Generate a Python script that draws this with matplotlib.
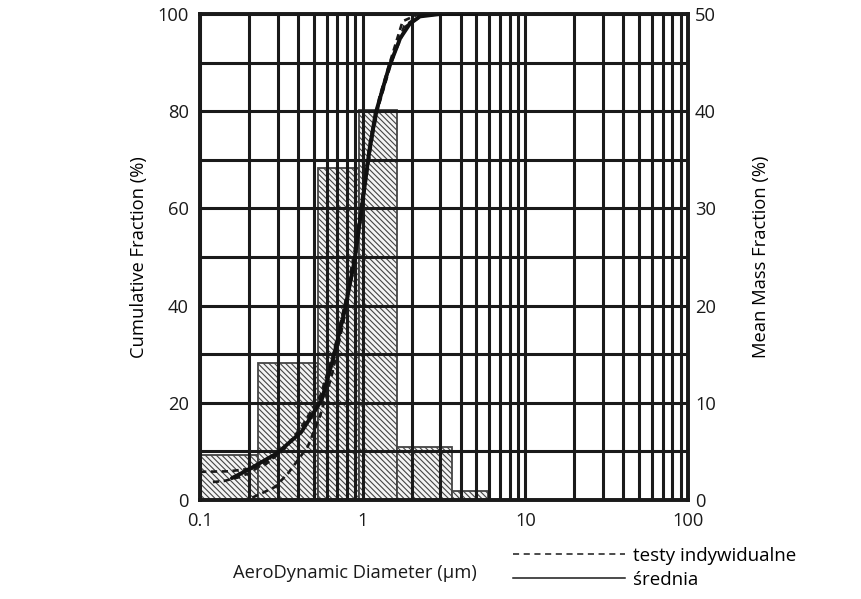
import matplotlib
matplotlib.use("Agg")
import matplotlib.pyplot as plt
from matplotlib.lines import Line2D
from matplotlib.ticker import FixedLocator, NullFormatter, NullLocator
import numpy as np

plt.rcParams['font.family'] = ['Open Sans', 'DejaVu Sans']
plt.rcParams['hatch.linewidth'] = 0.8
plt.rcParams['hatch.color'] = '#707070'

# ---- data ----
bin_edges = [0.1, 0.227, 0.53, 0.955, 1.62, 3.52, 5.93]
mass_fraction = [4.6, 14.1, 34.2, 40.1, 5.5, 0.95]

mean_x = [0.157, 0.2, 0.3, 0.42, 0.56, 0.655, 0.776, 0.893, 1.0, 1.1, 1.2, 1.45, 1.7, 1.95, 2.25, 3.0, 5.0]
mean_y = [4.5, 6.3, 9.7, 14.0, 20.6, 28.8, 39.0, 49.4, 61.5, 72.0, 79.5, 89.0, 95.0, 98.0, 99.5, 100.0, 100.0]

test1_x = [0.1, 0.15, 0.2, 0.25, 0.33, 0.42, 0.55, 0.66, 0.78, 0.9, 1.0, 1.12, 1.27, 1.5, 1.76, 2.15, 3.0, 21.0]
test1_y = [5.8, 5.9, 6.4, 7.2, 10.5, 15.0, 21.5, 30.0, 40.5, 52.0, 63.0, 74.5, 83.0, 91.0, 98.5, 99.8, 100.0, 100.0]

test2_x = [0.12, 0.14, 0.17, 0.2, 0.3, 0.42, 0.56, 0.66, 0.78, 0.9, 1.0, 1.12, 1.25, 1.5, 1.8, 2.2, 3.0]
test2_y = [3.7, 3.9, 4.6, 5.5, 9.3, 14.5, 21.5, 29.5, 40.0, 51.0, 62.0, 73.0, 81.0, 90.0, 97.5, 99.5, 100.0]

test3_x = [0.21, 0.24, 0.29, 0.35, 0.46, 0.55, 0.65, 0.76, 0.87, 0.97, 1.07, 1.17, 1.3, 1.55, 1.85, 2.3, 3.0]
test3_y = [0.5, 1.4, 2.7, 5.6, 11.0, 17.5, 26.0, 36.5, 47.5, 58.0, 68.0, 76.5, 84.0, 91.5, 97.5, 99.6, 100.0]

left_ticks = [0, 20, 40, 60, 80, 100]
right_ticks = [0, 10, 20, 30, 40, 50]
x_ticks = [0.1, 1, 10, 100]
x_tick_labels = ['0.1', '1', '10', '100']

# ---- figure ----
fig = plt.figure(figsize=(8.62, 5.99), dpi=100)
ax = fig.add_axes([200/862, 1-500/599, 488/862, 486/599])
ax2 = ax.twinx()
ax.set_zorder(2)
ax2.set_zorder(1)
ax.patch.set_visible(False)

widths = np.diff(bin_edges)
ax2.bar(bin_edges[:-1], mass_fraction, width=widths, align='edge',
        facecolor='#f4f4f4', edgecolor='#444444', linewidth=1.3,
        hatch='\\\\\\\\\\\\', zorder=1)

ax.set_xscale('log')
ax.set_xlim(0.1, 100)
ax.set_ylim(0, 100)
ax2.set_ylim(0, 50)
ax2.set_yticks(right_ticks)
ax2.yaxis.set_minor_locator(NullLocator())

# grid
minor_x = [m * 10.0**d for d in (-1, 0, 1) for m in range(2, 10)]
ax.xaxis.set_major_locator(FixedLocator(x_ticks))
ax.xaxis.set_minor_locator(FixedLocator(minor_x))
ax.xaxis.set_minor_formatter(NullFormatter())
ax.set_xticklabels(x_tick_labels)
ax.set_yticks(left_ticks)
ax.yaxis.set_minor_locator(FixedLocator([10, 30, 50, 70, 90]))
ax.grid(True, which='both', color='#1a1a1a', linewidth=2.2)

for a in (ax, ax2):
    a.tick_params(which='both', length=0, labelsize=13.2, colors='#1a1a1a')
    for s in a.spines.values():
        s.set_linewidth(2.6)
        s.set_color('#1a1a1a')
ax.tick_params(axis='y', pad=8)
ax.tick_params(axis='x', pad=9)
ax2.tick_params(axis='y', pad=5)

# curves
dash = (2.4, 1.7)
for tx, ty in ((test1_x, test1_y), (test2_x, test2_y), (test3_x, test3_y)):
    ax.plot(tx, ty, color='#1a1a1a', linewidth=1.9, linestyle=(0, dash),
            zorder=4, clip_on=False)
ax.plot(mean_x, mean_y, color='#111111', linewidth=2.8, zorder=5,
        solid_capstyle='round')

ax.set_ylabel('Cumulative Fraction (%)', fontsize=13.2, labelpad=7)
ax2.set_ylabel('Mean Mass Fraction (%)', fontsize=13.2, labelpad=26)
fig.text(355/862, 1-573/599, 'AeroDynamic Diameter (µm)', fontsize=13.2,
         ha='center', va='center', color='#1a1a1a')

handles = [Line2D([], [], color='#1a1a1a', linewidth=1.1, linestyle=(0, (4, 3))),
           Line2D([], [], color='#1a1a1a', linewidth=1.1)]
fig.legend(handles, ['testy indywidualne', 'średnia'], loc='upper left',
           bbox_to_anchor=(513/862, 1-547/599), frameon=False, fontsize=13.5,
           handlelength=6.0, handletextpad=0.4, labelspacing=0.3,
           borderpad=0, borderaxespad=0)

fig.savefig('out.png', dpi=100)
